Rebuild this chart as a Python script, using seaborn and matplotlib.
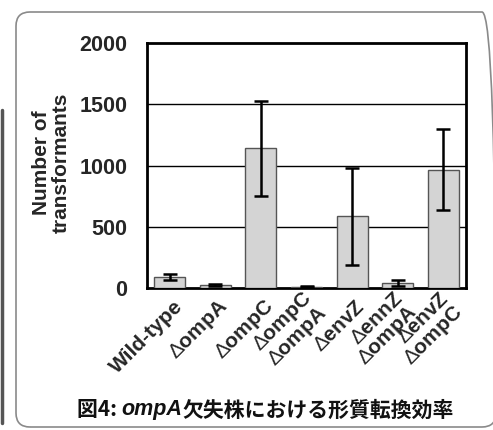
import matplotlib
matplotlib.use("Agg")
import matplotlib.pyplot as plt
import matplotlib.transforms as mtransforms
from matplotlib.patches import FancyBboxPatch
from matplotlib.lines import Line2D
import seaborn as sns
import pandas as pd

strains = ["Wild-type", "ΔompA", "ΔompC", "ΔompC\nΔompA", "ΔenvZ", "ΔennZ\nΔompA", "ΔenvZ\nΔompC"]
tick_labels = ["Wild-type", r"$\Delta$ompA", r"$\Delta$ompC", "$\\Delta$ompC\n$\\Delta$ompA",
               r"$\Delta$envZ", "$\\Delta$ennZ\n$\\Delta$ompA", "$\\Delta$envZ\n$\\Delta$ompC"]
means = [92, 22, 1145, 10, 585, 40, 965]
err_low = [68, 15, 755, 6, 190, 15, 635]
err_high = [116, 30, 1530, 14, 980, 65, 1300]
yticks = [0, 500, 1000, 1500, 2000]

sns.set_theme(style="white")
plt.rcParams["font.family"] = ["Liberation Sans", "DejaVu Sans"]
plt.rcParams["mathtext.fontset"] = "custom"
plt.rcParams["mathtext.rm"] = "Liberation Sans"
plt.rcParams["mathtext.it"] = "Liberation Sans"

fig = plt.figure(figsize=(4.93, 4.30), dpi=100)
ax = fig.add_axes([147/493, 1-288/430, 319/493, 245/430])

df = pd.DataFrame({"strain": strains, "value": means})
sns.barplot(data=df, x="strain", y="value", color="#d4d4d4", edgecolor="#555555",
            linewidth=1.0, width=0.68, saturation=1, ax=ax, zorder=3)

yerr = [[m - l for m, l in zip(means, err_low)], [h - m for m, h in zip(means, err_high)]]
ax.errorbar(range(len(means)), means, yerr=yerr, fmt="none", ecolor="black",
            elinewidth=1.8, capsize=5, capthick=1.8, zorder=4)

ax.set_ylim(0, 2000)
ax.set_xlim(-0.5, len(means) - 0.5)
ax.set_yticks(yticks)
ax.set_yticklabels([str(t) for t in yticks], fontsize=15.5, fontweight="bold")
for t in yticks[1:-1]:
    ax.axhline(t, color="black", lw=1.0, zorder=1)

ax.tick_params(axis="y", length=0, pad=14)
ax.tick_params(axis="x", length=0, pad=11)

ax.set_xticks(range(len(means)))
ax.set_xticklabels(tick_labels, rotation=45, ha="right", va="center",
                   rotation_mode="anchor", fontsize=15, fontweight="bold",
                   linespacing=0.95)
offset = mtransforms.ScaledTranslation(10/100, 0, fig.dpi_scale_trans)
for lbl in ax.get_xticklabels():
    lbl.set_transform(lbl.get_transform() + offset)

ax.set_xlabel("")
ax.set_ylabel("Number of\ntransformants", fontsize=15, fontweight="bold",
              linespacing=1.0)
ax.yaxis.set_label_coords(-0.24, 0.51)
for s in ax.spines.values():
    s.set_linewidth(2.0)
    s.set_color("black")

# caption
cap_font = ["Noto Sans CJK JP", "DejaVu Sans"]
t1 = fig.text(77/493, 1-410/430, "図4: ", fontsize=15, family=cap_font,
              weight="bold", ha="left", va="center", color="#111111")
t2 = ax.annotate("ompA", xy=(1, 0), xycoords=t1, ha="left", va="bottom",
                 fontsize=15.5, family=["Liberation Sans"], style="italic",
                 weight="bold", color="#111111", annotation_clip=False)
t3 = ax.annotate("欠失株における形質転換効率", xy=(1, 0), xycoords=t2, ha="left",
                 va="bottom", fontsize=15, family=cap_font, weight="bold",
                 color="#111111", annotation_clip=False)

# rounded frame and left line
ident = mtransforms.IdentityTransform()
box = FancyBboxPatch((16, 3), 480, 415, boxstyle="round,pad=0,rounding_size=14",
                     transform=ident, fill=False, edgecolor="#8a8a8a", lw=1.2)
fig.add_artist(box)
fig.add_artist(Line2D([1.5, 1.5], [7, 320], transform=ident, color="#555555", lw=2.5))

fig.savefig("out.png", dpi=100)
